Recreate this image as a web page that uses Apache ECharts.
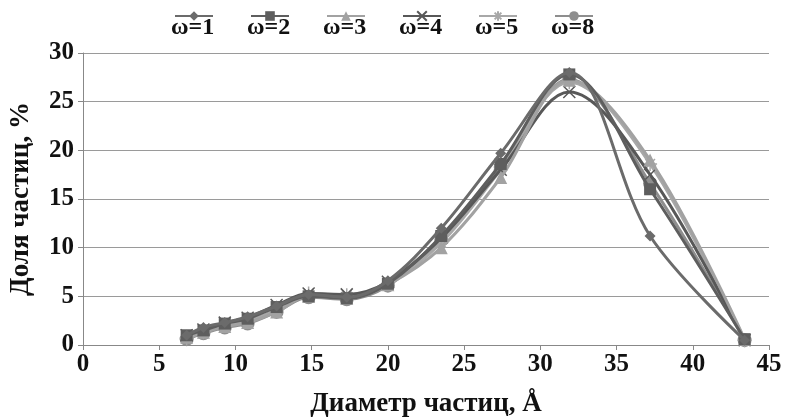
<!DOCTYPE html>
<html><head><meta charset="utf-8">
<script src="https://cdn.jsdelivr.net/npm/echarts@6/dist/echarts.min.js"></script>
<style>html,body{margin:0;padding:0;background:#fff}#c{width:785px;height:419px}</style>
</head><body><div id="c"></div>
<script>
const diameters = [6.8, 7.9, 9.3, 10.8, 12.7, 14.8, 17.3, 20.0, 23.5, 27.4, 31.9, 37.2, 43.4];
const seriesNames = ['ω=1', 'ω=2', 'ω=3', 'ω=4', 'ω=5', 'ω=8'];
const w1 = [1.0, 1.8, 2.3, 2.9, 4.0, 5.2, 4.9, 6.6, 12.0, 19.7, 28.0, 11.2, 0.5];
const w2 = [1.0, 1.5, 2.2, 2.7, 3.9, 5.0, 4.8, 6.3, 11.2, 18.6, 27.8, 16.0, 0.6];
const w3 = [0.8, 1.3, 1.9, 2.3, 3.4, 5.0, 4.8, 6.2, 10.0, 17.2, 27.2, 19.0, 0.6];
const w4 = [1.0, 1.6, 2.3, 2.8, 4.1, 5.3, 5.2, 6.5, 11.0, 18.0, 26.0, 17.5, 0.5];
const w5 = [0.7, 1.3, 2.0, 2.5, 3.6, 5.3, 5.1, 6.3, 10.5, 18.0, 27.0, 18.6, 0.5];
const w8 = [0.6, 1.2, 1.8, 2.2, 3.4, 4.9, 4.7, 6.1, 10.8, 18.3, 27.3, 16.6, 0.5];
const allValues = [w1, w2, w3, w4, w5, w8];
const xTicks = {min: 0, max: 45, interval: 5};
const yTicks = {min: 0, max: 30, interval: 5};

const colors = ['#6b6b6b', '#5e5e5e', '#a2a2a2', '#585858', '#a8a8a8', '#8e8e8e'];
const symbols = ['diamond', 'rect', 'triangle',
  'path://M0,0L10,10M10,0L0,10',
  'path://M5,0L5,10M0,5L10,5M1.5,1.5L8.5,8.5M8.5,1.5L1.5,8.5',
  'circle'];
const sizes = [11, 12, 13, 12, 14, 14];
const font = '"Liberation Serif", "Times New Roman", serif';

const series = seriesNames.map((n, i) => ({
  name: n, type: 'line', smooth: 0.35,
  data: diameters.map((d, j) => [d, allValues[i][j]]),
  symbol: symbols[i], symbolSize: sizes[i],
  lineStyle: {color: colors[i], width: 3},
  itemStyle: {color: (i === 3 || i === 4) ? 'rgba(0,0,0,0)' : colors[i], borderColor: colors[i], borderWidth: (i === 3 || i === 4) ? 1.5 : 0},
  z: 10 - i
}));

const chart = echarts.init(document.getElementById('c'), null, {renderer: 'canvas'});
chart.setOption({
  backgroundColor: '#fff',
  animation: false,
  color: colors,
  grid: {left: 83, right: 16, top: 53, bottom: 74, containLabel: false, outerBoundsMode: 'none'},
  legend: {
    data: seriesNames, top: -8, left: 171, padding: 0, itemWidth: 38, itemHeight: 12, itemGap: 29,
    formatter: n => '\n' + n,
    textStyle: {fontFamily: font, fontWeight: 'bold', fontSize: 24, lineHeight: 24, color: '#111', padding: [0, 0, 0, -47]}
  },
  xAxis: {
    type: 'value', min: xTicks.min, max: xTicks.max, interval: xTicks.interval,
    name: 'Диаметр частиц, Å', nameLocation: 'middle', nameGap: 46,
    nameTextStyle: {fontFamily: font, fontWeight: 'bold', fontSize: 27, color: '#111'},
    axisLine: {lineStyle: {color: '#888', width: 1}},
    axisTick: {show: true, length: 5, lineStyle: {color: '#888'}},
    axisLabel: {fontFamily: font, fontWeight: 'bold', fontSize: 25, color: '#111', margin: 7},
    splitLine: {show: false}
  },
  yAxis: {
    type: 'value', min: yTicks.min, max: yTicks.max, interval: yTicks.interval,
    name: 'Доля частиц, %', nameLocation: 'middle', nameGap: 48, nameRotate: 90,
    nameTextStyle: {fontFamily: font, fontWeight: 'bold', fontSize: 27, color: '#111'},
    axisLine: {show: true, lineStyle: {color: '#888', width: 1}},
    axisTick: {show: true, length: 5, lineStyle: {color: '#888'}},
    axisLabel: {fontFamily: font, fontWeight: 'bold', fontSize: 25, color: '#111', margin: 9},
    splitLine: {show: true, lineStyle: {color: '#9a9a9a', width: 1}}
  },
  series: series
});
</script></body></html>
